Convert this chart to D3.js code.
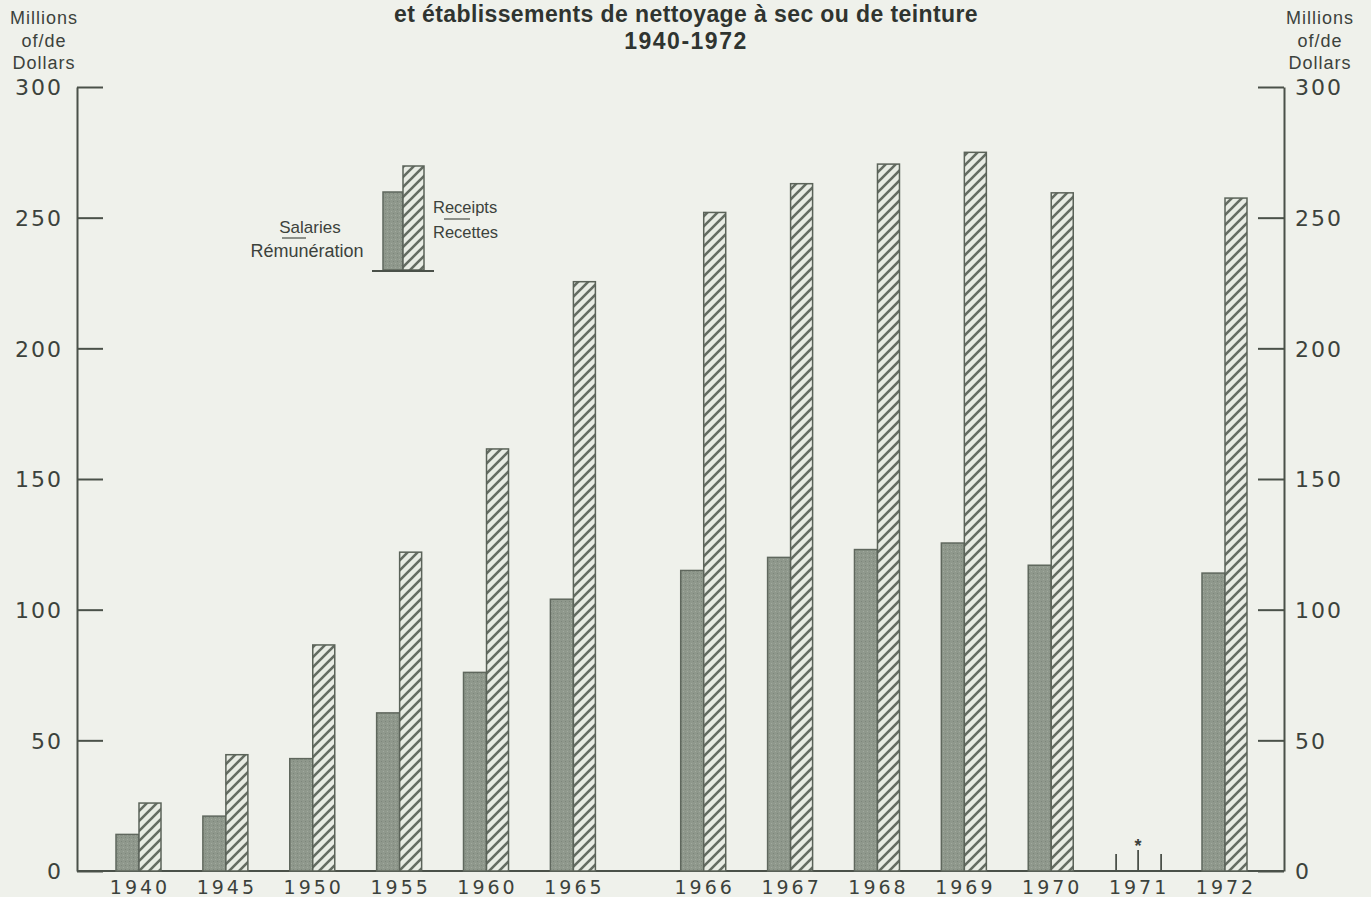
<!DOCTYPE html>
<html><head><meta charset="utf-8">
<script src="https://cdn.jsdelivr.net/npm/d3@7"></script>
<style>
html,body{margin:0;padding:0;background:#eff1eb;}
svg{display:block;}
</style></head>
<body>
<svg id="c" width="1371" height="897"></svg>
<script>
const years    = ["1940","1945","1950","1955","1960","1965","1966","1967","1968","1969","1970","1971","1972"];
const salaries = [14, 21, 43, 60.5, 76, 104, 115, 120, 123, 125.5, 117, null, 114];
const receipts = [26, 44.5, 86.5, 122, 161.5, 225.5, 252, 263, 270.5, 275, 259.5, null, 257.5];
const yTicks   = [0, 50, 100, 150, 200, 250, 300];
const titleLines = ["et établissements de nettoyage à sec ou de teinture", "1940-1972"];
const unitLines  = ["Millions", "of/de", "Dollars"];

const svg = d3.select("#c");
const ink = "#4a5149", txt = "#3c423c";
const numFont = "'DejaVu Sans', sans-serif";
const sansFont = "'Liberation Sans', Arial, sans-serif";

// background
svg.append("rect").attr("width",1371).attr("height",897).attr("fill","#eff1eb");

// patterns
const defs = svg.append("defs");
const hp = defs.append("pattern").attr("id","hatch").attr("patternUnits","userSpaceOnUse")
  .attr("width",10).attr("height",10);
hp.append("rect").attr("width",10).attr("height",10).attr("fill","#e8ece4");
hp.append("path").attr("d","M-2,2 L2,-2 M0,10 L10,0 M8,12 L12,8")
  .attr("stroke","#646c62").attr("stroke-width",2.6);
const dp = defs.append("pattern").attr("id","dots").attr("patternUnits","userSpaceOnUse")
  .attr("width",4).attr("height",4);
dp.append("rect").attr("width",4).attr("height",4).attr("fill","#8f988c");
dp.append("rect").attr("x",1).attr("y",1).attr("width",1).attr("height",1).attr("fill","#7d867b");
dp.append("rect").attr("x",3).attr("y",3).attr("width",1).attr("height",1).attr("fill","#a2aa9f");

// scales
const slot = (i) => i + (+years[i] > 1965 ? 0.5 : 0);
const x = d3.scaleLinear().domain([0, slot(years.length-1)]).range([139, 1225]);
const y = d3.scaleLinear().domain([0, 300]).range([871, 87]);
const bwS = 23, bwR = 22;

// axes
const left = svg.append("g").attr("transform","translate(77,0)")
  .call(d3.axisLeft(y).tickValues(yTicks).tickSizeInner(-26).tickSizeOuter(0).tickPadding(14).tickFormat(d3.format("d")));
const right = svg.append("g").attr("transform","translate(1284,0)")
  .call(d3.axisRight(y).tickValues(yTicks).tickSizeInner(-26).tickSizeOuter(0).tickPadding(11).tickFormat(d3.format("d")));
[left, right].forEach(g => {
  g.select(".domain").attr("stroke", ink).attr("stroke-width", 2);
  g.selectAll(".tick line").attr("stroke", ink).attr("stroke-width", 2);
  g.selectAll(".tick text").attr("fill", txt).attr("font-family", numFont)
    .attr("font-size", 22).attr("letter-spacing", 2).attr("dy","0.36em");
});

// baseline
svg.append("line").attr("x1",77).attr("x2",1284).attr("y1",y(0)).attr("y2",y(0))
  .attr("stroke",ink).attr("stroke-width",2);

const data = years.map((yr,i) => ({yr, i, s: salaries[i], r: receipts[i]}));

// salary bars
svg.append("g").selectAll("rect").data(data.filter(d => d.s != null)).join("rect")
  .attr("x", d => x(slot(d.i)) - bwS).attr("width", bwS)
  .attr("y", d => y(d.s)).attr("height", d => y(0) - y(d.s))
  .attr("fill","url(#dots)").attr("stroke","#5f675d").attr("stroke-width",1.5);

// receipt bars
svg.append("g").selectAll("rect").data(data.filter(d => d.r != null)).join("rect")
  .attr("x", d => x(slot(d.i))).attr("width", bwR)
  .attr("y", d => y(d.r)).attr("height", d => y(0) - y(d.r))
  .attr("fill","url(#hatch)").attr("stroke","#5b6359").attr("stroke-width",1.5);

// 1971 markers (no data)
data.filter(d => d.s == null).forEach(d => {
  const cx = x(slot(d.i));
  [-22, 0, 23].forEach(o => {
    svg.append("line").attr("x1",cx+o).attr("x2",cx+o)
      .attr("y1", o === 0 ? 850 : 854).attr("y2", y(0))
      .attr("stroke",ink).attr("stroke-width",1.8);
  });
  svg.append("text").attr("x",cx).attr("y",852).attr("text-anchor","middle")
    .attr("font-family",sansFont).attr("font-weight","bold").attr("font-size",18)
    .attr("fill",txt).text("*");
});

// x labels
svg.append("g").selectAll("text").data(data).join("text")
  .attr("x", d => x(slot(d.i)) + 1).attr("y", 894).attr("text-anchor","middle")
  .attr("font-family", numFont).attr("font-size", 19).attr("letter-spacing", 3)
  .attr("fill", txt).text(d => d.yr);

// title
svg.append("g").selectAll("text").data(titleLines).join("text")
  .attr("x", 686).attr("y", (d,i) => 22 + i*27).attr("text-anchor","middle")
  .attr("font-family", sansFont).attr("font-weight","bold").attr("font-size", 23)
  .attr("letter-spacing", (d,i) => i === 0 ? 0.4 : 1.5)
  .attr("fill", "#2f3430").text(d => d);

// unit labels
[44, 1320].forEach(cx => {
  svg.append("g").selectAll("text").data(unitLines).join("text")
    .attr("x", cx).attr("y", (d,i) => 24 + i*22.5).attr("text-anchor","middle")
    .attr("font-family", sansFont).attr("font-size", 18).attr("letter-spacing", 1)
    .attr("fill", txt).text(d => d);
});

// legend
const lg = svg.append("g");
lg.append("rect").attr("x",383).attr("y",192).attr("width",20).attr("height",78)
  .attr("fill","url(#dots)").attr("stroke","#5f675d").attr("stroke-width",1.5);
lg.append("rect").attr("x",403).attr("y",166).attr("width",21).attr("height",104)
  .attr("fill","url(#hatch)").attr("stroke","#5b6359").attr("stroke-width",1.5);
lg.append("line").attr("x1",372).attr("x2",434).attr("y1",271).attr("y2",271)
  .attr("stroke",ink).attr("stroke-width",2);
const lt = (t, xx, yy, anchor, fs) => lg.append("text").attr("x",xx).attr("y",yy)
  .attr("text-anchor",anchor).attr("font-family",sansFont).attr("font-size",fs)
  .attr("fill",txt).text(t);
lt("Salaries", 310, 233, "middle", 17);
lt("Rémunération", 307, 257, "middle", 18);
lt("Receipts", 433, 213, "start", 16.5);
lt("Recettes", 433, 238, "start", 16.5);
lg.append("line").attr("x1",282).attr("x2",306).attr("y1",238).attr("y2",238).attr("stroke",ink).attr("stroke-width",1.2);
lg.append("line").attr("x1",444).attr("x2",470).attr("y1",219).attr("y2",219).attr("stroke",ink).attr("stroke-width",1.2);
</script>
</body></html>
